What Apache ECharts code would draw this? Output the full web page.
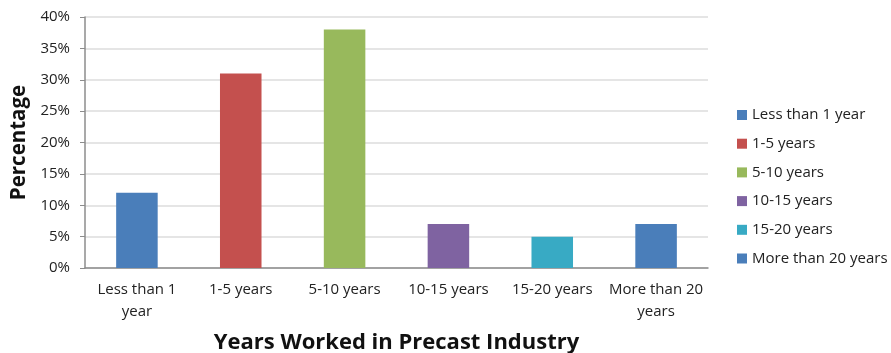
<!DOCTYPE html>
<html>
<head>
<meta charset="utf-8">
<script src="https://cdn.jsdelivr.net/npm/echarts@6/dist/echarts.min.js"></script>
<style>
  html, body { margin: 0; padding: 0; background: #fff; }
  #chart { width: 891px; height: 353px; }
</style>
</head>
<body>
<div id="chart"></div>
<script>
// Years worked in the precast industry, share of respondents (%)
const categories = ['Less than 1 year', '1-5 years', '5-10 years', '10-15 years', '15-20 years', 'More than 20 years'];
const axisLabels = ['Less than 1\nyear', '1-5 years', '5-10 years', '10-15 years', '15-20 years', 'More than 20\nyears'];
const percentages = [12, 31, 38, 7, 5, 7];
const barColors = ['#4a7eba', '#c4504e', '#98b95c', '#7f63a1', '#38aac4', '#4a7eba'];
const yTicks = [0, 5, 10, 15, 20, 25, 30, 35, 40];

const FONT = '"Open Sans", "Noto Sans", sans-serif';

// One series per category so every bar gets its own legend entry;
// all share one stack so each bar stays centred on its category.
const series = categories.map((name, i) => ({
  name: name,
  type: 'bar',
  stack: 'years',
  barWidth: '40%',
  itemStyle: { color: barColors[i] },
  data: percentages.map((v, j) => (j === i ? v : '-'))
}));

const chart = echarts.init(document.getElementById('chart'), null, { renderer: 'canvas' });
chart.setOption({
  animation: false,
  textStyle: { fontFamily: FONT },
  grid: { left: 85, right: 183, top: 17, bottom: 85, containLabel: false, outerBoundsMode: 'none' },
  legend: {
    orient: 'vertical',
    left: 732,
    top: 102.5,
    itemWidth: 10,
    itemHeight: 10,
    itemGap: 13.7,
    icon: 'rect',
    textStyle: { fontFamily: FONT, fontSize: 15, lineHeight: 15, color: '#222' },
    data: categories
  },
  xAxis: {
    type: 'category',
    data: axisLabels,
    name: 'Years Worked in Precast Industry',
    nameLocation: 'middle',
    nameGap: 64,
    nameTextStyle: { fontFamily: FONT, fontSize: 22, fontWeight: 'bold', color: '#111' },
    axisLine: { lineStyle: { color: '#8c8c8c', width: 1.5 } },
    axisTick: { show: false },
    axisLabel: { fontFamily: FONT, fontSize: 15, color: '#222', margin: 11, lineHeight: 22, interval: 0 }
  },
  yAxis: {
    type: 'value',
    min: yTicks[0],
    max: yTicks[yTicks.length - 1],
    interval: 5,
    name: 'Percentage',
    nameLocation: 'middle',
    nameRotate: 90,
    nameGap: 55,
    nameTextStyle: { fontFamily: FONT, fontSize: 20.5, fontWeight: 'bold', color: '#111' },
    axisLine: { show: true, lineStyle: { color: '#8c8c8c', width: 1.5 } },
    axisTick: { show: true, length: 5, lineStyle: { color: '#8c8c8c' } },
    axisLabel: { fontFamily: FONT, fontSize: 15, color: '#222', margin: 15, formatter: v => v + '%' },
    splitLine: { lineStyle: { color: '#dcdcdc', width: 1.5 } }
  },
  series: series
});
</script>
</body>
</html>
